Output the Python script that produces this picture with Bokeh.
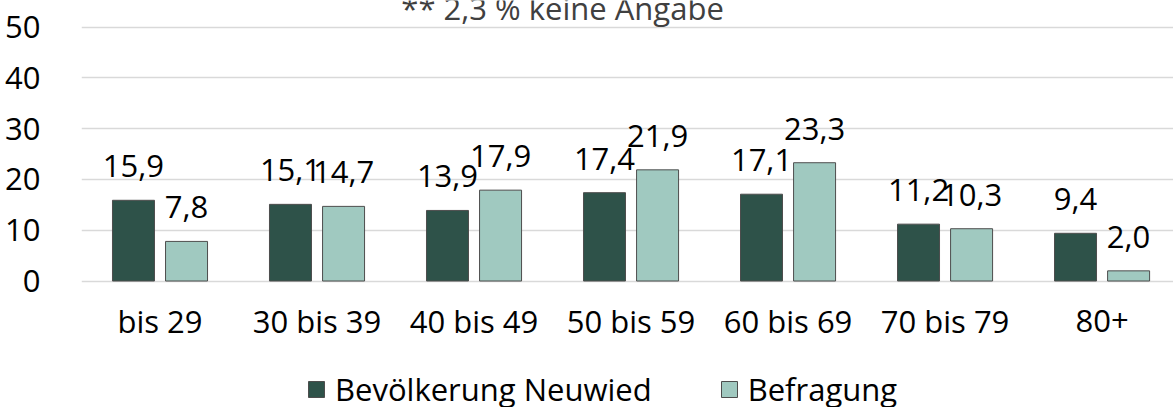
from bokeh.plotting import figure
from bokeh.models import Range1d, FixedTicker, Legend, LegendItem, Label, ColumnDataSource
from bokeh.embed import file_html
from bokeh.resources import INLINE
from bokeh.core.properties import value

categories = ["bis 29", "30 bis 39", "40 bis 49", "50 bis 59", "60 bis 69", "70 bis 79", "80+"]
bevoelkerung = [15.9, 15.1, 13.9, 17.4, 17.1, 11.2, 9.4]
befragung = [7.8, 14.7, 17.9, 21.9, 23.3, 10.3, 2.0]
series_names = ["Bevölkerung Neuwied", "Befragung"]
y_ticks = [0, 10, 20, 30, 40, 50]
note = "** 2,3 % keine Angabe"

FONT = "Open Sans"
DARK = "#2E5249"
LIGHT = "#A0C9C0"
OUTLINE = "#4D4D4D"
FS = "31px"

centers = [i + 0.5 for i in range(len(categories))]
off = 0.169
bw = 0.2675


def fmt(v):
    return f"{v:.1f}".replace(".", ",")


src1 = ColumnDataSource(dict(x=[c - off for c in centers], top=bevoelkerung,
                             lab=[fmt(v) for v in bevoelkerung]))
src2 = ColumnDataSource(dict(x=[c + off for c in centers], top=befragung,
                             lab=[fmt(v) for v in befragung]))
src_cat = ColumnDataSource(dict(x=centers, y=[0] * len(categories), text=categories))

p = figure(frame_width=1092, frame_height=407, output_backend="svg",
           toolbar_location=None, x_axis_location=None,
           x_range=Range1d(0, 6.955), y_range=Range1d(-24.92, 55.26),
           min_border_left=81, min_border_right=0, min_border_top=0,
           min_border_bottom=0)
p.outline_line_color = None
p.background_fill_color = "white"

r1 = p.vbar(x="x", top="top", width=bw, bottom=0, source=src1,
            fill_color=DARK, line_color=OUTLINE, line_width=1)
r2 = p.vbar(x="x", top="top", width=bw, bottom=0, source=src2,
            fill_color=LIGHT, line_color=OUTLINE, line_width=1)

for s in (src1, src2):
    p.text(x="x", y="top", text="lab", source=s, text_align="center",
           text_baseline="alphabetic", y_offset=-34,
           text_font=value(FONT), text_font_size=FS, text_color="black")

# category labels (x axis)
p.text(x="x", y="y", text="text", source=src_cat, text_align="center",
       text_baseline="alphabetic", y_offset=40,
       text_font=value(FONT), text_font_size=FS, text_color="black")

p.add_layout(Label(x=3.064, y=53.87, text=note, text_align="center",
                   text_baseline="alphabetic", text_font=FONT,
                   text_font_size=FS, text_color="#404040"))

# grid
p.xgrid.visible = False
p.ygrid.ticker = FixedTicker(ticks=y_ticks)
p.ygrid.grid_line_color = "#D9D9D9"
p.ygrid.grid_line_width = 1.5

# y axis
p.yaxis.ticker = FixedTicker(ticks=y_ticks)
p.yaxis.axis_line_color = None
p.yaxis.major_tick_line_color = None
p.yaxis.minor_tick_line_color = None
p.yaxis.major_label_standoff = 35
p.yaxis.major_label_text_font = FONT
p.yaxis.major_label_text_font_size = FS
p.yaxis.major_label_text_color = "black"

legend = Legend(items=[LegendItem(label=series_names[0], renderers=[r1]),
                       LegendItem(label=series_names[1], renderers=[r2])],
                orientation="horizontal", location=(225, -3),
                padding=0, margin=0, spacing=67, label_standoff=9,
                glyph_width=20, glyph_height=20,
                label_text_font=FONT, label_text_font_size=FS,
                label_text_color="black",
                border_line_color=None, background_fill_alpha=0)
p.add_layout(legend)

open("out.html", "w").write(file_html(p, INLINE))
